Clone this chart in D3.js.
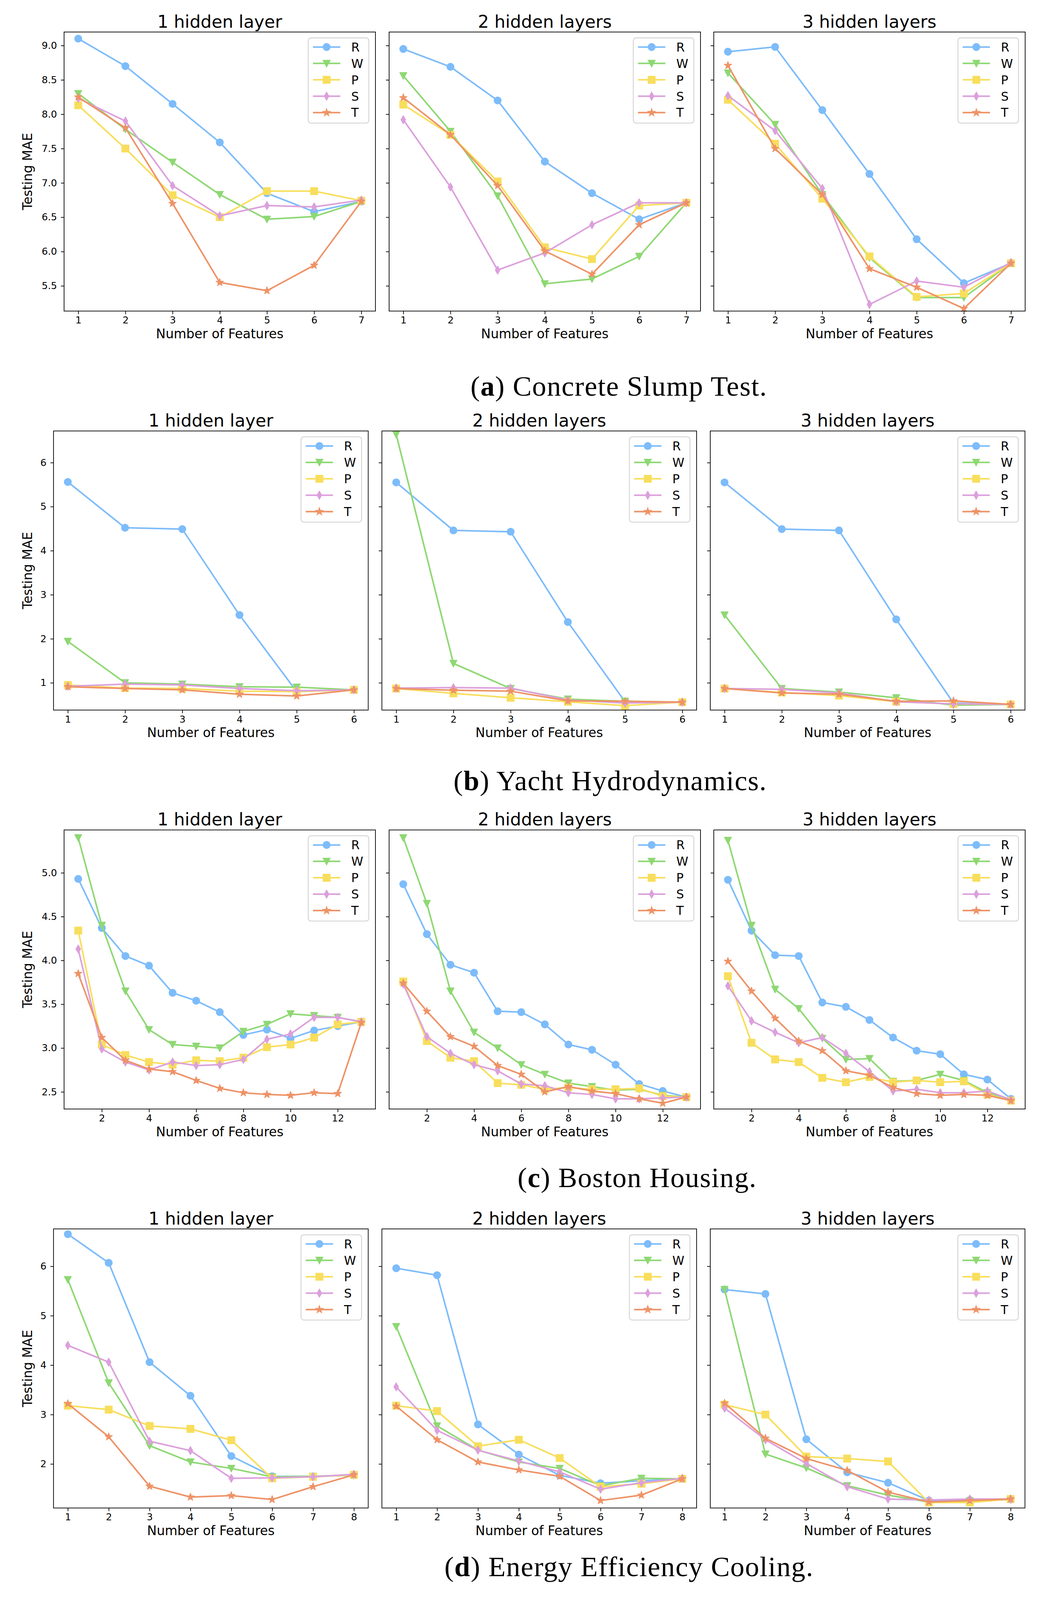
<!DOCTYPE html>
<html>
<head>
<meta charset="utf-8">
<script src="https://cdn.jsdelivr.net/npm/d3@7"></script>
<style>
  html, body { margin: 0; padding: 0; background: #fff; overflow: hidden; }
  svg { display: block; }
</style>
</head>
<body>
<svg id="fig" width="2662" height="4899"></svg>
<script>
(function () {
  'use strict';

  var seriesNames = ["R", "W", "P", "S", "T"];
  var seriesColors = ["#7dbcfa", "#8ed873", "#f8de5c", "#dca0dc", "#ee9367"];
  var layerTitles = ["1 hidden layer", "2 hidden layers", "3 hidden layers"];

  var captionLetters = ["a", "b", "c", "d"];
  var captionTexts = ["Concrete Slump Test.", "Yacht Hydrodynamics.", "Boston Housing.", "Energy Efficiency Cooling."];

  // (a) concrete slump test, one row per hidden-layer count
  var slumpFeatures = [1, 2, 3, 4, 5, 6, 7];
  var slumpR = [[9.10, 8.70, 8.15, 7.59, 6.85, 6.58, 6.73], [8.95, 8.69, 8.20, 7.31, 6.85, 6.47, 6.71], [8.91, 8.98, 8.06, 7.13, 6.18, 5.54, 5.83]];
  var slumpW = [[8.30, 7.78, 7.30, 6.83, 6.47, 6.51, 6.73], [8.56, 7.75, 6.81, 5.53, 5.60, 5.93, 6.71], [8.60, 7.85, 6.83, 5.91, 5.33, 5.33, 5.83]];
  var slumpP = [[8.13, 7.50, 6.82, 6.50, 6.88, 6.88, 6.74], [8.14, 7.70, 7.02, 6.06, 5.89, 6.67, 6.71], [8.21, 7.57, 6.77, 5.93, 5.34, 5.39, 5.83]];
  var slumpS = [[8.23, 7.90, 6.96, 6.52, 6.67, 6.65, 6.75], [7.92, 6.94, 5.73, 5.98, 6.39, 6.71, 6.71], [8.27, 7.76, 6.92, 5.23, 5.57, 5.48, 5.84]];
  var slumpT = [[8.25, 7.80, 6.70, 5.55, 5.43, 5.80, 6.73], [8.24, 7.70, 6.96, 6.01, 5.67, 6.39, 6.71], [8.71, 7.50, 6.83, 5.75, 5.48, 5.17, 5.83]];
  var slumpXTicks = [1, 2, 3, 4, 5, 6, 7];
  var slumpYTicks = [5.5, 6.0, 6.5, 7.0, 7.5, 8.0, 8.5, 9.0];
  var slumpXLim = [0.7, 7.3];
  var slumpYLim = [5.133, 9.197];

  // (b) yacht hydrodynamics
  var yachtFeatures = [1, 2, 3, 4, 5, 6];
  var yachtR = [[5.56, 4.52, 4.49, 2.54, 0.80, 0.84], [5.55, 4.46, 4.43, 2.38, 0.57, 0.56], [5.55, 4.49, 4.46, 2.44, 0.54, 0.51]];
  var yachtW = [[1.94, 1.00, 0.97, 0.91, 0.90, 0.84], [6.64, 1.44, 0.87, 0.63, 0.58, 0.56], [2.54, 0.87, 0.79, 0.66, 0.49, 0.51]];
  var yachtP = [[0.95, 0.88, 0.87, 0.81, 0.80, 0.84], [0.87, 0.76, 0.66, 0.57, 0.48, 0.56], [0.87, 0.78, 0.71, 0.57, 0.52, 0.51]];
  var yachtS = [[0.92, 0.97, 0.95, 0.87, 0.82, 0.84], [0.88, 0.89, 0.88, 0.61, 0.54, 0.56], [0.87, 0.85, 0.77, 0.57, 0.52, 0.51]];
  var yachtT = [[0.91, 0.87, 0.84, 0.74, 0.70, 0.84], [0.87, 0.83, 0.81, 0.59, 0.58, 0.56], [0.87, 0.77, 0.74, 0.58, 0.59, 0.51]];
  var yachtXTicks = [1, 2, 3, 4, 5, 6];
  var yachtYTicks = [1, 2, 3, 4, 5, 6];
  var yachtXLim = [0.75, 6.25];
  var yachtYLim = [0.381, 6.718];

  // (c) boston housing
  var bostonFeatures = [1, 2, 3, 4, 5, 6, 7, 8, 9, 10, 11, 12, 13];
  var bostonR = [[4.93, 4.37, 4.05, 3.94, 3.63, 3.54, 3.41, 3.15, 3.21, 3.11, 3.20, 3.25, 3.30],
                 [4.87, 4.30, 3.95, 3.86, 3.42, 3.41, 3.27, 3.04, 2.98, 2.81, 2.59, 2.51, 2.44],
                 [4.92, 4.34, 4.06, 4.05, 3.52, 3.47, 3.32, 3.12, 2.97, 2.93, 2.70, 2.64, 2.42]];
  var bostonW = [[5.40, 4.40, 3.65, 3.21, 3.04, 3.02, 3.00, 3.19, 3.27, 3.39, 3.37, 3.35, 3.30],
                 [5.40, 4.65, 3.65, 3.18, 3.00, 2.81, 2.70, 2.60, 2.56, 2.52, 2.53, 2.46, 2.44],
                 [5.37, 4.40, 3.67, 3.45, 3.11, 2.87, 2.88, 2.62, 2.63, 2.70, 2.63, 2.49, 2.40]];
  var bostonP = [[4.34, 3.04, 2.92, 2.84, 2.81, 2.86, 2.85, 2.89, 3.01, 3.04, 3.12, 3.27, 3.30],
                 [3.76, 3.08, 2.89, 2.85, 2.60, 2.58, 2.53, 2.55, 2.53, 2.53, 2.54, 2.45, 2.44],
                 [3.82, 3.06, 2.87, 2.84, 2.66, 2.61, 2.67, 2.61, 2.63, 2.61, 2.62, 2.47, 2.40]];
  var bostonS = [[4.13, 2.99, 2.84, 2.75, 2.84, 2.80, 2.81, 2.87, 3.10, 3.16, 3.35, 3.35, 3.30],
                 [3.73, 3.13, 2.94, 2.81, 2.74, 2.59, 2.57, 2.49, 2.47, 2.42, 2.42, 2.43, 2.44],
                 [3.71, 3.31, 3.18, 3.06, 3.12, 2.94, 2.73, 2.51, 2.53, 2.49, 2.49, 2.51, 2.41]];
  var bostonT = [[3.85, 3.12, 2.86, 2.76, 2.73, 2.63, 2.54, 2.49, 2.47, 2.46, 2.49, 2.48, 3.29],
                 [3.74, 3.42, 3.13, 3.02, 2.80, 2.70, 2.50, 2.56, 2.51, 2.48, 2.42, 2.37, 2.44],
                 [3.99, 3.65, 3.34, 3.08, 2.97, 2.74, 2.69, 2.55, 2.48, 2.46, 2.47, 2.46, 2.40]];
  var bostonXTicks = [2, 4, 6, 8, 10, 12];
  var bostonYTicks = [2.5, 3.0, 3.5, 4.0, 4.5, 5.0];
  var bostonXLim = [0.4, 13.6];
  var bostonYLim = [2.304, 5.489];

  // (d) energy efficiency cooling
  var energyFeatures = [1, 2, 3, 4, 5, 6, 7, 8];
  var energyR = [[6.65, 6.07, 4.06, 3.38, 2.16, 1.75, 1.75, 1.78], [5.96, 5.82, 2.80, 2.19, 1.77, 1.61, 1.66, 1.70], [5.53, 5.44, 2.50, 1.83, 1.62, 1.26, 1.27, 1.28]];
  var energyW = [[5.73, 3.64, 2.37, 2.04, 1.91, 1.74, 1.75, 1.77], [4.78, 2.77, 2.28, 2.04, 1.91, 1.56, 1.71, 1.70], [5.53, 2.20, 1.92, 1.56, 1.37, 1.23, 1.25, 1.28]];
  var energyP = [[3.18, 3.10, 2.77, 2.71, 2.48, 1.71, 1.74, 1.78], [3.18, 3.07, 2.36, 2.49, 2.12, 1.54, 1.60, 1.70], [3.20, 3.00, 2.15, 2.11, 2.05, 1.22, 1.22, 1.29]];
  var energyS = [[4.40, 4.06, 2.46, 2.27, 1.71, 1.72, 1.74, 1.79], [3.56, 2.68, 2.28, 2.06, 1.84, 1.49, 1.62, 1.71], [3.13, 2.49, 2.01, 1.54, 1.29, 1.27, 1.29, 1.29]];
  var energyT = [[3.22, 2.55, 1.55, 1.33, 1.36, 1.28, 1.54, 1.78], [3.17, 2.49, 2.04, 1.88, 1.75, 1.26, 1.37, 1.70], [3.23, 2.52, 2.11, 1.87, 1.43, 1.23, 1.26, 1.29]];
  var energyXTicks = [1, 2, 3, 4, 5, 6, 7, 8];
  var energyYTicks = [2, 3, 4, 5, 6];
  var energyXLim = [0.65, 8.35];
  var energyYLim = [1.109, 6.756];

  var rows = [
    { features: slumpFeatures, series: [slumpR, slumpW, slumpP, slumpS, slumpT], xTicks: slumpXTicks, yTicks: slumpYTicks, xLim: slumpXLim, yLim: slumpYLim, fmt: ".1f" },
    { features: yachtFeatures, series: [yachtR, yachtW, yachtP, yachtS, yachtT], xTicks: yachtXTicks, yTicks: yachtYTicks, xLim: yachtXLim, yLim: yachtYLim, fmt: "d" },
    { features: bostonFeatures, series: [bostonR, bostonW, bostonP, bostonS, bostonT], xTicks: bostonXTicks, yTicks: bostonYTicks, xLim: bostonXLim, yLim: bostonYLim, fmt: ".1f" },
    { features: energyFeatures, series: [energyR, energyW, energyP, energyS, energyT], xTicks: energyXTicks, yTicks: energyYTicks, xLim: energyXLim, yLim: energyYLim, fmt: "d" }
  ];

  // the figure is laid out for 2662x4899; if the window is shorter,
  // squeeze the vertical layout so that all four rows stay visible
  var FULL_H = 4899;
  var winH = window.innerHeight || FULL_H;
  var ky = Math.min(1, winH / FULL_H);
  var fs = Math.sqrt(ky);                 // text and marker size factor

  var FONT = "'DejaVu Sans', sans-serif";
  var rowTop0 = 98 * ky, rowStep = 1221.6 * ky, plotH = 854.5 * ky;
  var captionX = [1584, 1562, 1631, 1610];
  var captionY = [1211, 2420, 3635, 4826];

  var tickFont = 27 * fs, titleFont = 48.5 * fs, labelFont = 36 * fs, legendFont = 34 * fs;

  var svg = d3.select("#fig").attr("height", Math.floor(FULL_H * ky));

  // marker shapes, centred on 0,0
  function starPath(outer, inner) {
    var pts = [];
    for (var i = 0; i < 10; i++) {
      var a = -Math.PI / 2 + i * Math.PI / 5;
      var rad = i % 2 ? inner : outer;
      pts.push([(rad * Math.cos(a)).toFixed(2), (rad * Math.sin(a)).toFixed(2)]);
    }
    return "M" + pts.join("L") + "Z";
  }
  var markerPaths = [
    "M10,0A10,10 0 1,1 -10,0A10,10 0 1,1 10,0Z",   // circle
    "M-10,-9L10,-9L0,10Z",                          // triangle down
    "M-10,-10H10V10H-10Z",                          // square
    "M0,-11.5L6.6,0L0,11.5L-6.6,0Z",                // thin diamond
    starPath(11, 4.3)                                // star
  ];

  rows.forEach(function (row, r) {
    var top = rowTop0 + r * rowStep;
    var bottom = top + plotH;
    var wideLabels = row.fmt !== "d";
    var lefts = wideLabels ? [164, 996, 1827] : [137, 977.5, 1818];
    var plotW = wideLabels ? 797 : 805.5;
    var fmt = d3.format(row.fmt);

    lefts.forEach(function (left, p) {
      var g = svg.append("g");

      var x = d3.scaleLinear().domain(row.xLim).range([left, left + plotW]);
      var y = d3.scaleLinear().domain(row.yLim).range([bottom, top]);

      // clip lines to the axes box like matplotlib
      var clipId = "clip" + r + "_" + p;
      svg.append("clipPath").attr("id", clipId)
        .append("rect").attr("x", left).attr("y", top).attr("width", plotW).attr("height", plotH);

      var line = d3.line()
        .x(function (d, i) { return x(row.features[i]); })
        .y(function (d) { return y(d); });

      row.series.forEach(function (s, k) {
        var vals = s[p];
        var sg = g.append("g");
        sg.append("path")
          .attr("d", line(vals))
          .attr("fill", "none")
          .attr("stroke", seriesColors[k])
          .attr("stroke-width", 4)
          .attr("stroke-linejoin", "round")
          .attr("clip-path", "url(#" + clipId + ")");
        sg.selectAll("path.m")
          .data(vals)
          .enter().append("path")
          .attr("class", "m")
          .attr("d", markerPaths[k])
          .attr("transform", function (d, i) {
            return "translate(" + x(row.features[i]) + "," + y(d) + ") scale(" + fs + ")";
          })
          .attr("fill", seriesColors[k])
          .attr("stroke", seriesColors[k])
          .attr("stroke-width", 2)
          .attr("stroke-linejoin", "round");
      });

      // axes
      var xAxis = g.append("g")
        .attr("transform", "translate(0," + bottom + ")")
        .call(d3.axisBottom(x).tickValues(row.xTicks).tickFormat(d3.format("d"))
          .tickSize(8).tickPadding(38 * ky - 8 - 0.71 * tickFont));
      var yAxis = g.append("g")
        .attr("transform", "translate(" + left + ",0)")
        .call(d3.axisLeft(y).tickValues(row.yTicks).tickFormat(p === 0 ? fmt : function () { return ""; })
          .tickSize(8).tickPadding(10));
      [xAxis, yAxis].forEach(function (ax) {
        ax.select(".domain").remove();
        ax.selectAll(".tick line").attr("stroke", "#000").attr("stroke-width", 1.8);
        ax.selectAll(".tick text").attr("fill", "#000").style("font-family", FONT).style("font-size", tickFont + "px");
      });

      // frame
      g.append("rect")
        .attr("x", left).attr("y", top)
        .attr("width", plotW).attr("height", plotH)
        .attr("fill", "none").attr("stroke", "#000").attr("stroke-width", 1.8);

      // title and labels
      g.append("text")
        .attr("x", left + plotW / 2).attr("y", top - 13.5 * ky)
        .attr("text-anchor", "middle")
        .style("font-family", FONT).style("font-size", titleFont + "px")
        .text(layerTitles[p]);
      g.append("text")
        .attr("x", left + plotW / 2).attr("y", bottom + 83 * ky)
        .attr("text-anchor", "middle")
        .style("font-family", FONT).style("font-size", labelFont + "px")
        .text("Number of Features");
      if (p === 0) {
        g.append("text")
          .attr("transform", "translate(82," + (top + plotH / 2) + ") rotate(-90)")
          .attr("text-anchor", "middle")
          .style("font-family", FONT).style("font-size", labelFont + "px")
          .text("Testing MAE");
      }

      // legend
      var boxW = 155, boxH = 261 * ky;
      var bx = left + plotW - 17 - boxW, by = top + 18 * ky;
      var lg = g.append("g");
      lg.append("rect")
        .attr("x", bx).attr("y", by).attr("width", boxW).attr("height", boxH)
        .attr("rx", 7).attr("ry", 7)
        .attr("fill", "#fff").attr("fill-opacity", 0.8)
        .attr("stroke", "#d4d4d4").attr("stroke-width", 2.3);
      var entries = lg.selectAll("g.entry")
        .data(seriesNames)
        .enter().append("g")
        .attr("class", "entry")
        .attr("transform", function (d, i) { return "translate(" + bx + "," + (by + (28 + i * 50.2) * ky) + ")"; });
      entries.append("line")
        .attr("x1", 12).attr("x2", 82).attr("y1", 0).attr("y2", 0)
        .attr("stroke", function (d, i) { return seriesColors[i]; })
        .attr("stroke-width", 4);
      entries.append("path")
        .attr("d", function (d, i) { return markerPaths[i]; })
        .attr("transform", "translate(47,0) scale(" + fs + ")")
        .attr("fill", function (d, i) { return seriesColors[i]; })
        .attr("stroke", function (d, i) { return seriesColors[i]; })
        .attr("stroke-width", 2);
      entries.append("text")
        .attr("x", 110).attr("y", 0.36 * legendFont)
        .style("font-family", FONT).style("font-size", legendFont + "px")
        .text(function (d) { return d; });
    });

    // sub-figure caption
    var cap = svg.append("text")
      .attr("x", captionX[r]).attr("y", captionY[r] * ky)
      .attr("text-anchor", "middle")
      .style("font-family", "'Liberation Serif', 'DejaVu Serif', serif")
      .style("font-size", (79 * fs) + "px")
      .style("letter-spacing", "1.5px");
    cap.append("tspan").text("(");
    cap.append("tspan").style("font-weight", "bold").text(captionLetters[r]);
    cap.append("tspan").text(") " + captionTexts[r]);
  });
}());
</script>
</body>
</html>
